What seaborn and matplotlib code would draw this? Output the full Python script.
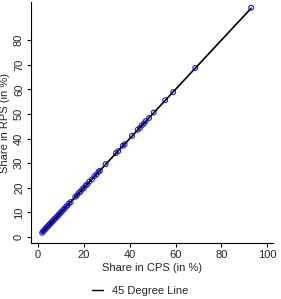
import pandas as pd
import matplotlib.pyplot as plt
import seaborn as sns
from matplotlib.lines import Line2D

# Shares (CPS on x, RPS on y)
cps = [1.8, 2.2, 2.5, 2.8, 3.1, 3.4, 3.7, 4.0, 4.3, 4.6, 5.0, 5.3, 5.6, 6.0,
       6.4, 6.8, 7.2, 7.6, 8.0, 8.5, 9.0, 9.5, 10.0, 10.5, 11.0, 11.6, 12.2,
       12.8, 13.5, 14.3, 16.2, 17.0, 17.8, 18.5, 19.3, 20.0, 20.8, 21.5, 22.4,
       23.5, 24.6, 25.5, 26.4, 27.0, 29.5, 34.0, 35.0, 37.0, 37.8, 41.0, 43.5,
       44.5, 45.3, 46.2, 47.0, 48.5, 50.5, 55.5, 59.0, 68.6, 93.0]
rps = [1.7, 2.3, 2.4, 2.9, 3.2, 3.3, 3.8, 4.1, 4.2, 4.7, 5.1, 5.2, 5.7, 6.1,
       6.3, 6.9, 7.3, 7.5, 8.1, 8.4, 9.1, 9.4, 10.1, 10.4, 11.1, 11.5, 12.3,
       12.7, 13.6, 14.2, 16.3, 16.9, 17.9, 18.4, 19.4, 19.9, 20.9, 21.4, 22.5,
       23.4, 24.7, 25.4, 26.5, 26.9, 29.6, 34.1, 34.9, 37.1, 37.7, 41.1, 43.6,
       44.4, 45.4, 46.1, 47.1, 48.4, 50.6, 55.6, 58.9, 68.7, 93.2]

x_ticks = [0, 20, 40, 60, 80, 100]
y_ticks = [0, 10, 20, 30, 40, 50, 60, 70, 80]

df = pd.DataFrame({'cps': cps, 'rps': rps})

sns.set_style('ticks')
plt.rcParams['font.family'] = ['Liberation Sans', 'DejaVu Sans']

fig = plt.figure(figsize=(2.81, 2.99), dpi=100)
ax = fig.add_axes([0.110, 0.187, 0.862, 0.806])

# scatter of hollow blue circles
sns.scatterplot(data=df, x='cps', y='rps', ax=ax, marker='o', s=12,
                facecolor='none', edgecolor='#1a1aff', linewidth=0.8,
                zorder=2)
# 45 degree line
sns.lineplot(x=df['cps'], y=df['cps'], ax=ax, color='black', linewidth=1.2,
             zorder=3)

ax.set_xlim(-3.1, 102.6)
ax.set_ylim(-2.5, 95.5)
ax.set_xticks(x_ticks)
ax.set_yticks(y_ticks)
ax.tick_params(axis='both', labelsize=8, length=3, width=0.8, pad=2,
               color='black')
for lab in ax.get_yticklabels():
    lab.set_rotation(90)
    lab.set_va('center')

ax.set_xlabel('Share in CPS (in %)', fontsize=8, labelpad=2)
ax.set_ylabel('Share in RPS (in %)', fontsize=8)
ax.yaxis.set_label_coords(-0.088, 0.5)

for side in ['top', 'right']:
    ax.spines[side].set_visible(False)
for side in ['left', 'bottom']:
    ax.spines[side].set_linewidth(0.8)
    ax.spines[side].set_color('black')

handle = Line2D([], [], color='black', linewidth=1.0)
fig.legend([handle], ['45 Degree Line'], loc='center',
           bbox_to_anchor=(0.5, 0.027), frameon=False, fontsize=8,
           handlelength=1.0, handletextpad=0.8)

fig.savefig('out.png', dpi=100)
